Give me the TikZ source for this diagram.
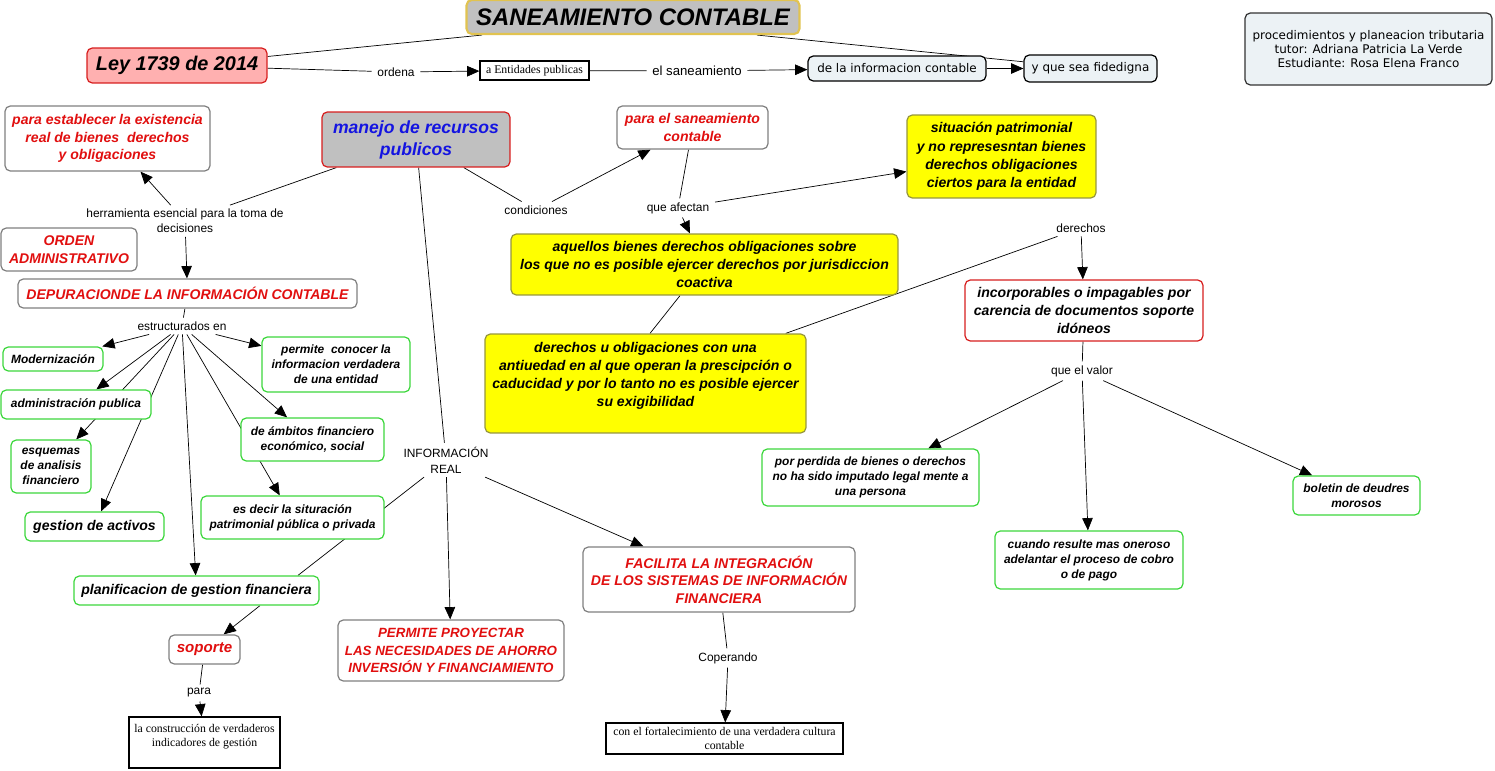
\documentclass[tikz,border=0pt]{standalone}
\usepackage{xcolor}
\usepackage{fontspec}
\setmainfont{Liberation Sans}
\newfontfamily\verdfont{DejaVu Sans}
\newfontfamily\timesfont{Liberation Serif}
\usetikzlibrary{arrows.meta,backgrounds}

\definecolor{cmred}{RGB}{225,15,15}
\definecolor{cmblue}{RGB}{20,20,225}
\definecolor{cmgray}{RGB}{128,128,128}
\definecolor{cmfill}{RGB}{192,192,192}
\definecolor{cmgold}{RGB}{225,195,80}
\definecolor{cmpink}{RGB}{255,176,176}
\definecolor{cmborder}{RGB}{215,30,30}
\definecolor{cmgreen}{RGB}{60,215,60}
\definecolor{cmyellow}{RGB}{255,255,0}
\definecolor{cmolive}{RGB}{150,150,60}
\definecolor{cmpale}{RGB}{236,242,245}

\begin{document}
\begin{tikzpicture}[x=0.02cm,y=-0.02cm,line width=0.6pt]
  \tikzstyle{box}=[draw,fill=white,rounded corners=3pt,align=center,inner sep=1pt,line width=0.7pt]
  \tikzstyle{redbox}=[box,draw=cmgray,text=cmred,font=\bfseries\itshape\fontsize{8}{10}\selectfont]
  \tikzstyle{greenbox}=[box,draw=cmgreen,font=\bfseries\itshape\fontsize{6.8}{8.5}\selectfont]
  \tikzstyle{yellowbox}=[box,draw=cmolive,fill=cmyellow,font=\bfseries\itshape\fontsize{8}{10.4}\selectfont]
  \tikzstyle{palebox}=[box,draw=black,fill=cmpale,font=\verdfont\fontsize{6.8}{8}\selectfont]
  \tikzstyle{plainbox}=[draw,fill=white,align=center,inner sep=1pt,line width=0.7pt,font=\timesfont\fontsize{6.7}{8}\selectfont]
  \tikzstyle{link}=[align=center,inner xsep=3pt,inner ysep=2pt,font=\fontsize{6.8}{8.5}\selectfont]
  \tikzstyle{arr}=[-{Triangle[length=7pt,width=6pt]}]
  \useasboundingbox (0,0) rectangle (1495,771);

  % top row
  \node[box,draw=cmgold,fill=cmfill,line width=1.2pt,minimum width=6.66cm,minimum height=0.68cm,font=\bfseries\itshape\fontsize{13.6}{15}\selectfont] (title) at (633,17) {SANEAMIENTO CONTABLE};
  \node[box,draw=cmborder,fill=cmpink,minimum width=3.6cm,minimum height=0.7cm,font=\bfseries\itshape\fontsize{11.3}{13}\selectfont] (ley) at (177,65.5) {Ley 1739 de 2014};
  \node[plainbox,minimum width=2.18cm,minimum height=0.38cm] (entidades) at (534.5,70.5) {a Entidades publicas};
  \node[palebox,minimum width=3.56cm,minimum height=0.5cm] (infocont) at (897,68.5) {de la informacion contable};
  \node[palebox,minimum width=2.66cm,minimum height=0.54cm] (fidedigna) at (1090.5,68.5) {y que sea fidedigna};
  \node[palebox,draw=black!80,minimum width=4.94cm,minimum height=1.44cm] (datos) at (1368.5,49) {procedimientos y planeacion tributaria\\ tutor: Adriana Patricia La Verde\\ Estudiante: Rosa Elena Franco};

  % left column
  \node[redbox,minimum width=4.1cm,minimum height=1.3cm] (establecer) at (107.5,138.5) {para establecer la existencia\\ real de bienes\ \ derechos\\ y obligaciones};
  \node[box,draw=cmborder,fill=cmfill,text=cmblue,minimum width=3.76cm,minimum height=1.1cm,font=\bfseries\itshape\fontsize{10}{12.5}\selectfont] (manejo) at (416,139.5) {manejo de recursos\\ publicos};
  \node[redbox,minimum width=2.72cm,minimum height=0.86cm] (orden) at (69,249.5) {ORDEN\\ ADMINISTRATIVO};
  \node[redbox,minimum width=6.78cm,minimum height=0.58cm] (depur) at (187.5,293.5) {DEPURACIONDE LA INFORMACIÓN CONTABLE};
  \node[greenbox,minimum width=2cm,minimum height=0.48cm] (modern) at (53,359) {Modernización};
  \node[greenbox,minimum width=2.96cm,minimum height=1.1cm] (permite) at (336,364.5) {permite\ \ conocer la\\ informacion verdadera\\ de una entidad};
  \node[greenbox,minimum width=3cm,minimum height=0.58cm] (admin) at (76,404.5) {administración publica};
  \node[greenbox,minimum width=1.6cm,minimum height=1.06cm] (esquemas) at (51,466.5) {esquemas\\ de analisis\\ financiero};
  \node[greenbox,minimum width=2.86cm,minimum height=0.86cm] (ambitos) at (312.5,439.5) {de ámbitos financiero\\ económico, social};
  \node[greenbox,minimum width=3.66cm,minimum height=0.86cm] (esdecir) at (292.5,517.5) {es decir la situración\\ patrimonial pública o privada};
  \node[greenbox,minimum width=2.78cm,minimum height=0.58cm,font=\bfseries\itshape\fontsize{8}{10}\selectfont] (gestion) at (94.5,526.5) {gestion de activos};
  \node[greenbox,minimum width=4.9cm,minimum height=0.58cm,font=\bfseries\itshape\fontsize{8}{10}\selectfont] (planif) at (196.5,590.5) {planificacion de gestion financiera};
  \node[redbox,minimum width=1.42cm,minimum height=0.58cm,font=\bfseries\itshape\fontsize{8.6}{10}\selectfont] (soporte) at (204.5,649.5) {soporte};
  \node[plainbox,minimum width=3.02cm,minimum height=1.02cm] (construc) at (204.5,742.5) {la construcción de verdaderos\\ indicadores de gestión\\ \mbox{}};

  % middle
  \node[redbox,minimum width=3.02cm,minimum height=0.86cm] (parasan) at (692.5,127.5) {para el saneamiento\\ contable};
  \node[yellowbox,minimum width=3.78cm,minimum height=1.66cm] (situacion) at (1001.5,156.5) {situación patrimonial\\ y no represesntan bienes\\ derechos obligaciones\\ ciertos para la entidad};
  \node[yellowbox,minimum width=7.74cm,minimum height=1.22cm] (aquellos) at (704.5,264.5) {aquellos bienes derechos obligaciones sobre\\ los que no es posible ejercer derechos por jurisdiccion\\ coactiva};
  \node[yellowbox,minimum width=6.42cm,minimum height=1.98cm] (derechosu) at (645.5,383.5) {derechos u obligaciones con una\\ antiuedad en al que operan la prescipción o\\ caducidad y por lo tanto no es posible ejercer\\ su exigibilidad\\ \mbox{}};
  \node[redbox,minimum width=4.52cm,minimum height=1.22cm,font=\bfseries\itshape\fontsize{7.6}{10}\selectfont] (proyectar) at (451,650.5) {PERMITE PROYECTAR\\ LAS NECESIDADES DE AHORRO\\ INVERSIÓN Y FINANCIAMIENTO};
  \node[redbox,minimum width=5.44cm,minimum height=1.3cm] (facilita) at (719,579.5) {FACILITA LA INTEGRACIÓN\\ DE LOS SISTEMAS DE INFORMACIÓN\\ FINANCIERA};
  \node[plainbox,minimum width=4.74cm,minimum height=0.62cm] (fortalec) at (724.5,738.5) {con el fortalecimiento de una verdadera cultura\\ contable};

  % right
  \node[box,draw=cmborder,minimum width=4.76cm,minimum height=1.22cm,font=\bfseries\itshape\fontsize{8}{10}\selectfont] (incorp) at (1084,310.5) {incorporables o impagables por\\ carencia de documentos soporte\\ idóneos};
  \node[greenbox,minimum width=4.34cm,minimum height=1.14cm] (perdida) at (870.5,477.5) {por perdida de bienes o derechos\\ no ha sido imputado legal mente a\\ una persona};
  \node[greenbox,minimum width=2.54cm,minimum height=0.78cm] (boletin) at (1356.5,495.5) {boletin de deudres\\ morosos};
  \node[greenbox,minimum width=3.76cm,minimum height=1.16cm] (cuando) at (1089,560) {cuando resulte mas oneroso\\ adelantar el proceso de cobro\\ o de pago};

  % linking phrases
  \node[link] (ordena) at (396,72) {ordena};
  \node[link,font=\fontsize{7.5}{9}\selectfont] (elsan) at (697,71) {el saneamiento};
  \node[link] (herram) at (185,221) {herramienta esencial para la toma de\\ decisiones};
  \node[link] (condic) at (536,210) {condiciones};
  \node[link] (afectan) at (678,208) {que afectan};
  \node[link] (derechos) at (1081,228) {derechos};
  \node[link] (estruct) at (182,326) {estructurados en};
  \node[link,font=\fontsize{6.8}{9}\selectfont] (inforeal) at (446,460) {INFORMACIÓN\\ REAL};
  \node[link] (valor) at (1082,371) {que el valor};
  \node[link] (para) at (199,693) {para};
  \node[link] (coperando) at (728,658) {Coperando};

  \begin{pgfonlayer}{background}
    \draw ([xshift=-3.02cm]title.south) -- (ley);
    \draw ([xshift=2.48cm]title.south) -- (fidedigna);
    \draw (ley) -- (ordena);
    \draw[arr] (ordena) -- (entidades);
    \draw (entidades) -- (elsan);
    \draw[arr] (elsan) -- (infocont);
    \draw[arr] (infocont) -- (fidedigna);
    \draw (manejo) -- (herram);
    \draw[arr] (herram) -- ([xshift=0.66cm]establecer.south);
    \draw[arr] (herram) -- (depur);
    \draw (manejo) -- (condic);
    \draw[arr] (condic) -- (parasan);
    \draw (parasan) -- (afectan);
    \draw[arr] (afectan) -- (aquellos);
    \draw[arr] (afectan) -- (situacion);
    \draw ([xshift=-0.49cm]aquellos.south) -- ([xshift=0.09cm]derechosu.north);
    \draw (derechosu) -- (derechos);
    \draw[arr] (derechos) -- (incorp);
    \draw (incorp) -- (valor);
    \draw[arr] (valor) -- (perdida);
    \draw[arr] (valor) -- (cuando);
    \draw[arr] (valor) -- (boletin);
    \draw (depur) -- (estruct);
    \foreach \n in {modern,admin,esquemas,gestion,planif,permite,ambitos,esdecir}
      \draw[arr] (estruct) -- (\n);
    \draw (manejo) -- (inforeal);
    \draw ([xshift=2.03cm]planif.north) -- (inforeal);
    \draw[arr] (inforeal) -- (proyectar);
    \draw[arr] (inforeal) -- (facilita);
    \draw[arr] ([xshift=1.27cm]planif.south) -- (soporte);
    \draw (soporte) -- (para);
    \draw[arr] (para) -- (construc);
    \draw (facilita) -- (coperando);
    \draw[arr] (coperando) -- (fortalec);
  \end{pgfonlayer}
\end{tikzpicture}
\end{document}
